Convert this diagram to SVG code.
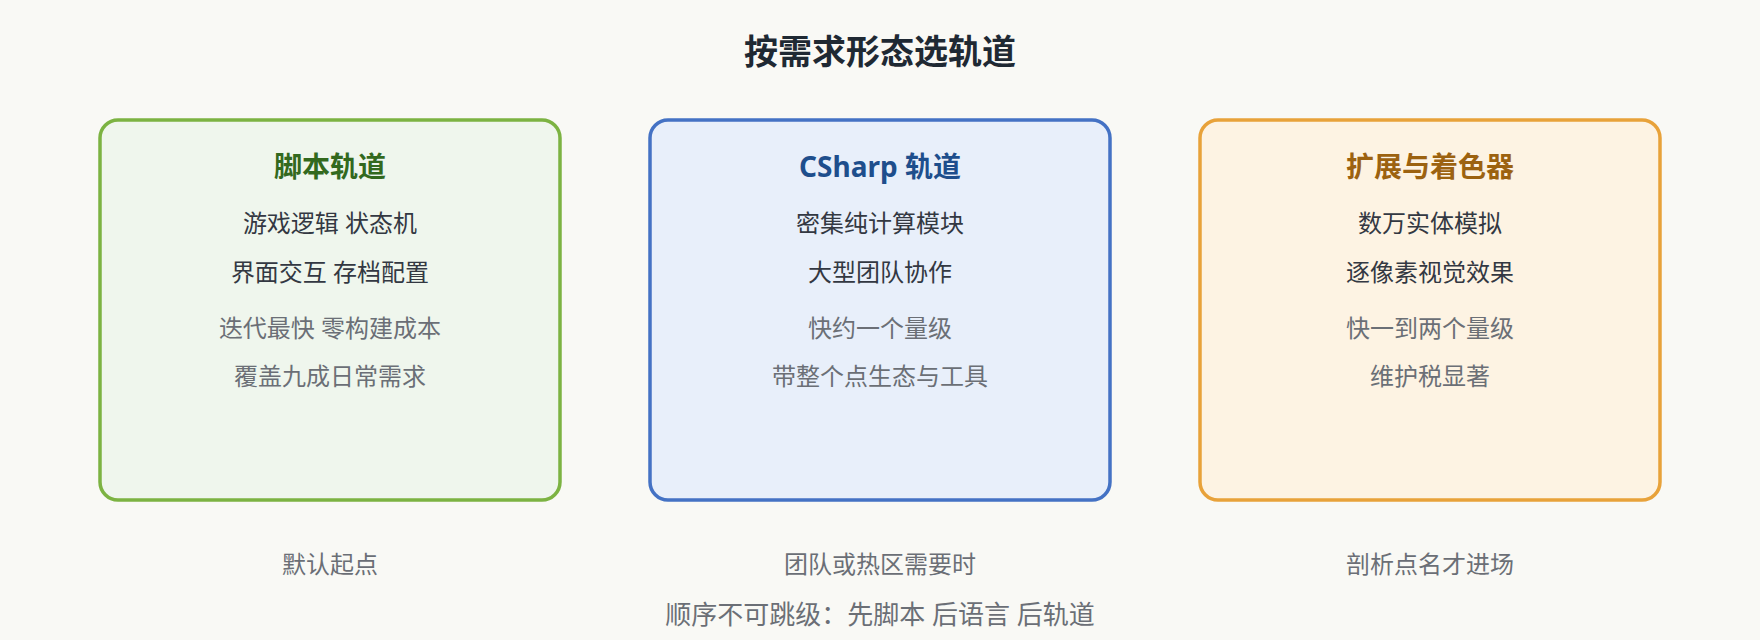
<svg xmlns="http://www.w3.org/2000/svg" width="1760" height="640" viewBox="0 0 1760 640">
<style>
text{font-family:"Noto Sans","Noto Sans CJK SC",sans-serif;text-anchor:middle}
.title{font-size:34px;font-weight:700;fill:#1f2933}
.h{font-size:28px;font-weight:700}
.b{font-size:24px;fill:#333842}
.g{font-size:24px;fill:#6b6f76}
.f{font-size:26px;fill:#6b6f76}
.box{stroke-width:3.5}
</style>
<rect width="1760" height="640" fill="#f9f9f5"/>
<text class="title" x="880" y="64">按需求形态选轨道</text>
<g id="script-track">
<rect class="box" x="100" y="120" width="460" height="380" rx="18" fill="#eff6ed" stroke="#7cb342"/>
<text class="h" x="330" y="177" fill="#33691e">脚本轨道</text>
<text class="b" x="330" y="232">游戏逻辑 状态机</text>
<text class="b" x="330" y="281">界面交互 存档配置</text>
<text class="g" x="330" y="337">迭代最快 零构建成本</text>
<text class="g" x="330" y="385">覆盖九成日常需求</text>
</g>
<g id="csharp-track">
<rect class="box" x="650" y="120" width="460" height="380" rx="18" fill="#e8effa" stroke="#4472c4"/>
<text class="h" x="880" y="177" fill="#1e4e8c">CSharp 轨道</text>
<text class="b" x="880" y="232">密集纯计算模块</text>
<text class="b" x="880" y="281">大型团队协作</text>
<text class="g" x="880" y="337">快约一个量级</text>
<text class="g" x="880" y="385">带整个点生态与工具</text>
</g>
<g id="extension-track">
<rect class="box" x="1200" y="120" width="460" height="380" rx="18" fill="#fdf3e3" stroke="#e8a23a"/>
<text class="h" x="1430" y="177" fill="#9c6210">扩展与着色器</text>
<text class="b" x="1430" y="232">数万实体模拟</text>
<text class="b" x="1430" y="281">逐像素视觉效果</text>
<text class="g" x="1430" y="337">快一到两个量级</text>
<text class="g" x="1430" y="385">维护税显著</text>
</g>
<g id="labels">
<text class="g" x="330" y="573">默认起点</text>
<text class="g" x="880" y="573">团队或热区需要时</text>
<text class="g" x="1430" y="573">剖析点名才进场</text>
<text class="f" x="880" y="624">顺序不可跳级：先脚本 后语言 后轨道</text>
</g>
<g id="connectors"></g>
</svg>
